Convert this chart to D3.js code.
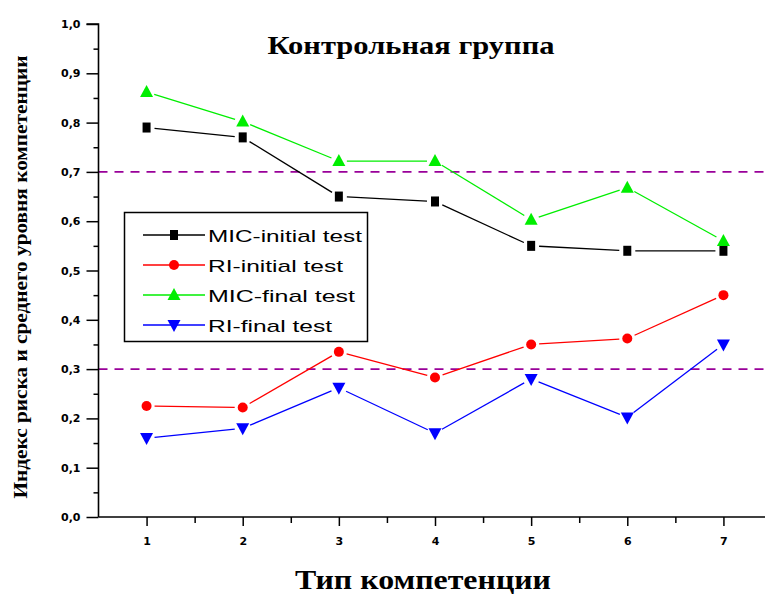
<!DOCTYPE html>
<html><head><meta charset="utf-8">
<script src="https://cdn.jsdelivr.net/npm/d3@7"></script>
<style>body{margin:0;background:#fff}svg{display:block}</style>
</head><body>
<svg id="c" width="765" height="597"></svg>
<script>
const categories = [1, 2, 3, 4, 5, 6, 7];
const micInitial = [0.79, 0.77, 0.65, 0.64, 0.55, 0.54, 0.54];
const riInitial  = [0.225, 0.222, 0.335, 0.283, 0.35, 0.362, 0.45];
const micFinal   = [0.862, 0.802, 0.722, 0.722, 0.603, 0.668, 0.56];
const riFinal    = [0.16, 0.18, 0.262, 0.17, 0.28, 0.202, 0.35];
const seriesNames = ["MIC-initial test", "RI-initial test", "MIC-final test", "RI-final test"];
const refLines = [0.7, 0.3];
const yTicks = [0, 0.1, 0.2, 0.3, 0.4, 0.5, 0.6, 0.7, 0.8, 0.9, 1.0];
const title = "Контрольная группа";
const xTitle = "Тип компетенции";
const yTitle = "Индекс риска и среднего уровня компетенции";

const series = [
  {name: seriesNames[0], values: micInitial, color: "#000000", sym: "square"},
  {name: seriesNames[1], values: riInitial, color: "#ff0000", sym: "circle"},
  {name: seriesNames[2], values: micFinal, color: "#00ee00", sym: "tri"},
  {name: seriesNames[3], values: riFinal, color: "#0000ff", sym: "tridown"}
];

const svg = d3.select("#c");
const x = d3.scaleLinear().domain([0.5, 7.5]).range([98.5, 771.5]);
const y = d3.scaleLinear().domain([0, 1]).range([517, 24]);

// reference dashed lines
svg.selectAll(".ref").data(refLines).join("line")
  .attr("x1", x(0.5)).attr("x2", 765)
  .attr("y1", d => y(d)).attr("y2", d => y(d))
  .attr("stroke", "#990099").attr("stroke-width", 1.6)
  .attr("stroke-dasharray", "9,7");

const fmt = d => d3.format(".1f")(d).replace(".", ",");

// y axis major
const gy = svg.append("g").attr("transform", `translate(${x(0.5)},0)`)
  .call(d3.axisLeft(y).tickValues(yTicks).tickSize(12).tickPadding(6).tickFormat(fmt));
gy.select(".domain").attr("stroke-width", 1.6).attr("d", `M-12,${y(1)}H0V${y(0)}`);
gy.selectAll(".tick line").attr("stroke-width", 1.5);
gy.selectAll(".tick text").attr("font-family", "DejaVu Sans, sans-serif").attr("font-weight", "bold").attr("font-size", 11);
// y minor
const gym = svg.append("g").attr("transform", `translate(${x(0.5)},0)`)
  .call(d3.axisLeft(y).tickValues(d3.range(0.05, 1, 0.1)).tickSize(5).tickFormat(""));
gym.select(".domain").remove();
gym.selectAll(".tick line").attr("stroke-width", 1.5);

// x axis major
const gx = svg.append("g").attr("transform", `translate(0,${y(0)})`)
  .call(d3.axisBottom(x).tickValues(categories).tickSize(9).tickPadding(11).tickFormat(d3.format("d")));
gx.select(".domain").attr("stroke-width", 1.6).attr("d", `M${x(0.5)},0H765`);
gx.selectAll(".tick line").attr("stroke-width", 1.5);
gx.selectAll(".tick text").attr("font-family", "DejaVu Sans, sans-serif").attr("font-weight", "bold").attr("font-size", 11);
const gxm = svg.append("g").attr("transform", `translate(0,${y(0)})`)
  .call(d3.axisBottom(x).tickValues([1.5, 2.5, 3.5, 4.5, 5.5, 6.5]).tickSize(6).tickFormat(""));
gxm.select(".domain").remove();
gxm.selectAll(".tick line").attr("stroke-width", 1.5);

function drawMarker(g, sym, cx, cy, color) {
  if (sym === "square") {
    g.append("rect").attr("x", cx - 4).attr("y", cy - 5).attr("width", 8).attr("height", 10).attr("fill", color);
  } else if (sym === "circle") {
    g.append("circle").attr("cx", cx).attr("cy", cy).attr("r", 5).attr("fill", color);
  } else if (sym === "tri") {
    g.append("path").attr("d", `M${cx},${cy - 7}L${cx + 6.5},${cy + 5}L${cx - 6.5},${cy + 5}Z`).attr("fill", color);
  } else {
    g.append("path").attr("d", `M${cx},${cy + 7}L${cx + 6.5},${cy - 5}L${cx - 6.5},${cy - 5}Z`).attr("fill", color);
  }
}

const gap = 8;
series.forEach(s => {
  const g = svg.append("g");
  const pts = s.values.map((v, i) => [x(categories[i]), y(v)]);
  for (let i = 0; i < pts.length - 1; i++) {
    const [x1, y1] = pts[i], [x2, y2] = pts[i + 1];
    const len = Math.hypot(x2 - x1, y2 - y1);
    const ux = (x2 - x1) / len, uy = (y2 - y1) / len;
    g.append("line")
      .attr("x1", x1 + ux * gap).attr("y1", y1 + uy * gap)
      .attr("x2", x2 - ux * gap).attr("y2", y2 - uy * gap)
      .attr("stroke", s.color).attr("stroke-width", 1.3);
  }
  pts.forEach(p => drawMarker(g, s.sym, p[0], p[1], s.color));
});

// legend
const lg = svg.append("g");
lg.append("rect").attr("x", 124.5).attr("y", 212.5).attr("width", 243).attr("height", 129)
  .attr("fill", "#fff").attr("stroke", "#000").attr("stroke-width", 1.5);
const legendWidths = [154, 135, 147, 124];
series.forEach((s, i) => {
  const cy = 235 + i * 30;
  lg.append("line").attr("x1", 143).attr("x2", 205).attr("y1", cy).attr("y2", cy)
    .attr("stroke", s.color).attr("stroke-width", 1.3);
  drawMarker(lg, s.sym, 174, cy, s.color);
  lg.append("text").attr("x", 208).attr("y", cy + 6.5).text(s.name)
    .attr("font-family", "Liberation Sans, Arial, sans-serif").attr("font-size", 17)
    .attr("textLength", legendWidths[i]).attr("lengthAdjust", "spacingAndGlyphs");
});

// titles
svg.append("text").attr("x", 411).attr("y", 54).attr("text-anchor", "middle").text(title)
  .attr("font-family", "Liberation Serif, Times New Roman, serif").attr("font-weight", "bold")
  .attr("font-size", 25).attr("textLength", 287).attr("lengthAdjust", "spacingAndGlyphs");
svg.append("text").attr("x", 423).attr("y", 589).attr("text-anchor", "middle").text(xTitle)
  .attr("font-family", "Liberation Serif, Times New Roman, serif").attr("font-weight", "bold")
  .attr("font-size", 27).attr("textLength", 256).attr("lengthAdjust", "spacingAndGlyphs");
svg.append("text").attr("transform", "translate(27,277) rotate(-90)").attr("text-anchor", "middle").text(yTitle)
  .attr("font-family", "Liberation Serif, Times New Roman, serif").attr("font-weight", "bold")
  .attr("font-size", 19).attr("textLength", 443).attr("lengthAdjust", "spacingAndGlyphs");
</script>
</body></html>
